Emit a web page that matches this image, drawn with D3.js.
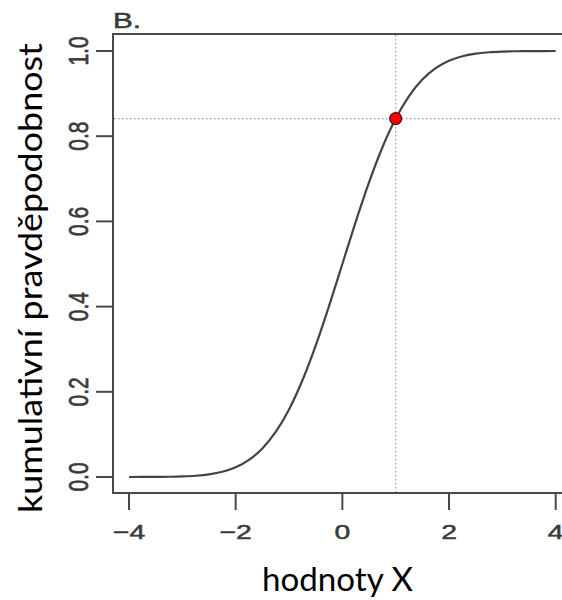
<!DOCTYPE html>
<html>
<head>
<meta charset="utf-8">
<script src="https://cdn.jsdelivr.net/npm/d3@7/dist/d3.min.js"></script>
<style>
html,body{margin:0;padding:0;background:#fff;}
svg{display:block;}
</style>
</head>
<body>
<svg id="chart" width="562" height="600"></svg>
<script>
// Data
const xValues = [-4,-3.75,-3.5,-3.25,-3,-2.75,-2.5,-2.25,-2,-1.75,-1.5,-1.25,-1,-0.75,-0.5,-0.25,0,0.25,0.5,0.75,1,1.25,1.5,1.75,2,2.25,2.5,2.75,3,3.25,3.5,3.75,4];
const cumValues = [0.00003,0.00009,0.00023,0.00058,0.00135,0.00298,0.00621,0.01222,0.02275,0.04006,0.06681,0.10565,0.15866,0.22663,0.30854,0.40129,0.5,0.59871,0.69146,0.77337,0.84134,0.89435,0.93319,0.95994,0.97725,0.98778,0.99379,0.99702,0.99865,0.99942,0.99977,0.99991,0.99997];
const markedPoint = {x: 1, y: 0.84134};
const xTicks = [-4,-2,0,2,4];
const yTicks = [0,0.2,0.4,0.6,0.8,1.0];
const xTickLabels = ["\u22124","\u22122","0","2","4"];
const yTickLabels = ["0.0","0.2","0.4","0.6","0.8","1.0"];
const panelLabel = "B.";
const xTitle = "hodnoty X";
const yTitle = "kumulativní pravděpodobnost";

const svg = d3.select("#chart");
const x = d3.scaleLinear().domain([-4,4]).range([129,555.7]);
const y = d3.scaleLinear().domain([0,1]).range([477,51]);
const xmin = x.invert(113), ymin = y.invert(493), ymax = y.invert(34);
const axisColor = "#4a4a4a";
const sx = 1.35;
const tickFont = "'Liberation Sans', Arial, Helvetica, sans-serif";

// Box (left, top, bottom; right side is outside the window)
svg.append("path")
  .attr("d", `M600,${y(ymax)}H${x(xmin)}V${y(ymin)}H600`)
  .attr("fill","none").attr("stroke",axisColor).attr("stroke-width",2);

// Reference dotted lines
svg.append("line")
  .attr("x1", x(markedPoint.x)).attr("x2", x(markedPoint.x))
  .attr("y1", y(ymax)+1).attr("y2", y(ymin)-1)
  .attr("stroke","#9a9a9a").attr("stroke-width",1.2).attr("stroke-dasharray","1.5,2.5");
svg.append("line")
  .attr("x1", x(xmin)+1).attr("x2", 562)
  .attr("y1", y(markedPoint.y)).attr("y2", y(markedPoint.y))
  .attr("stroke","#9a9a9a").attr("stroke-width",1.2).attr("stroke-dasharray","1.5,2.5");

// Curve
const pts = xValues.map((v,i)=>[v,cumValues[i]]);
svg.append("path")
  .datum(pts)
  .attr("d", d3.line().x(d=>x(d[0])).y(d=>y(d[1])).curve(d3.curveMonotoneX))
  .attr("fill","none").attr("stroke","#444").attr("stroke-width",2.2);

// Point
svg.append("circle")
  .attr("cx", x(markedPoint.x)).attr("cy", y(markedPoint.y)).attr("r",6)
  .attr("fill","#ff0000").attr("stroke","#4a1010").attr("stroke-width",1.3);

// X ticks
const xg = svg.append("g");
xTicks.forEach((t,i)=>{
  xg.append("line").attr("x1",x(t)).attr("x2",x(t)).attr("y1",493).attr("y2",510)
    .attr("stroke",axisColor).attr("stroke-width",2);
  xg.append("text")
    .attr("transform",`translate(${x(t)},539) scale(${sx},1)`)
    .attr("text-anchor","middle")
    .attr("font-family",tickFont).attr("font-size",21)
    .attr("fill","#3a3a3a").attr("stroke","#3a3a3a").attr("stroke-width",0.5)
    .text(xTickLabels[i]);
});

// Y ticks
const yg = svg.append("g");
yTicks.forEach((t,i)=>{
  yg.append("line").attr("x1",96).attr("x2",113).attr("y1",y(t)).attr("y2",y(t))
    .attr("stroke",axisColor).attr("stroke-width",2);
  yg.append("text")
    .attr("transform",`translate(88,${y(t)}) scale(${sx},1) rotate(-90)`)
    .attr("text-anchor","middle")
    .attr("font-family",tickFont).attr("font-size",21)
    .attr("fill","#3a3a3a").attr("stroke","#3a3a3a").attr("stroke-width",0.5)
    .text(yTickLabels[i]);
});

// Panel label
svg.append("text")
  .attr("transform",`translate(113,28) scale(${sx},1)`)
  .attr("font-family",tickFont).attr("font-size",22)
  .attr("fill","#3a3a3a").attr("stroke","#3a3a3a").attr("stroke-width",0.5)
  .text(panelLabel);

// Axis titles
svg.append("text")
  .attr("x",262).attr("y",591)
  .attr("font-family","Lato, 'Open Sans', sans-serif").attr("font-size",33).attr("fill","#000")
  .attr("textLength",151).attr("lengthAdjust","spacingAndGlyphs")
  .text(xTitle);
svg.append("text")
  .attr("transform","translate(42,513) rotate(-90)")
  .attr("font-family","Lato, 'Open Sans', sans-serif").attr("font-size",33).attr("fill","#000")
  .attr("textLength",470).attr("lengthAdjust","spacingAndGlyphs")
  .text(yTitle);
</script>
</body>
</html>
